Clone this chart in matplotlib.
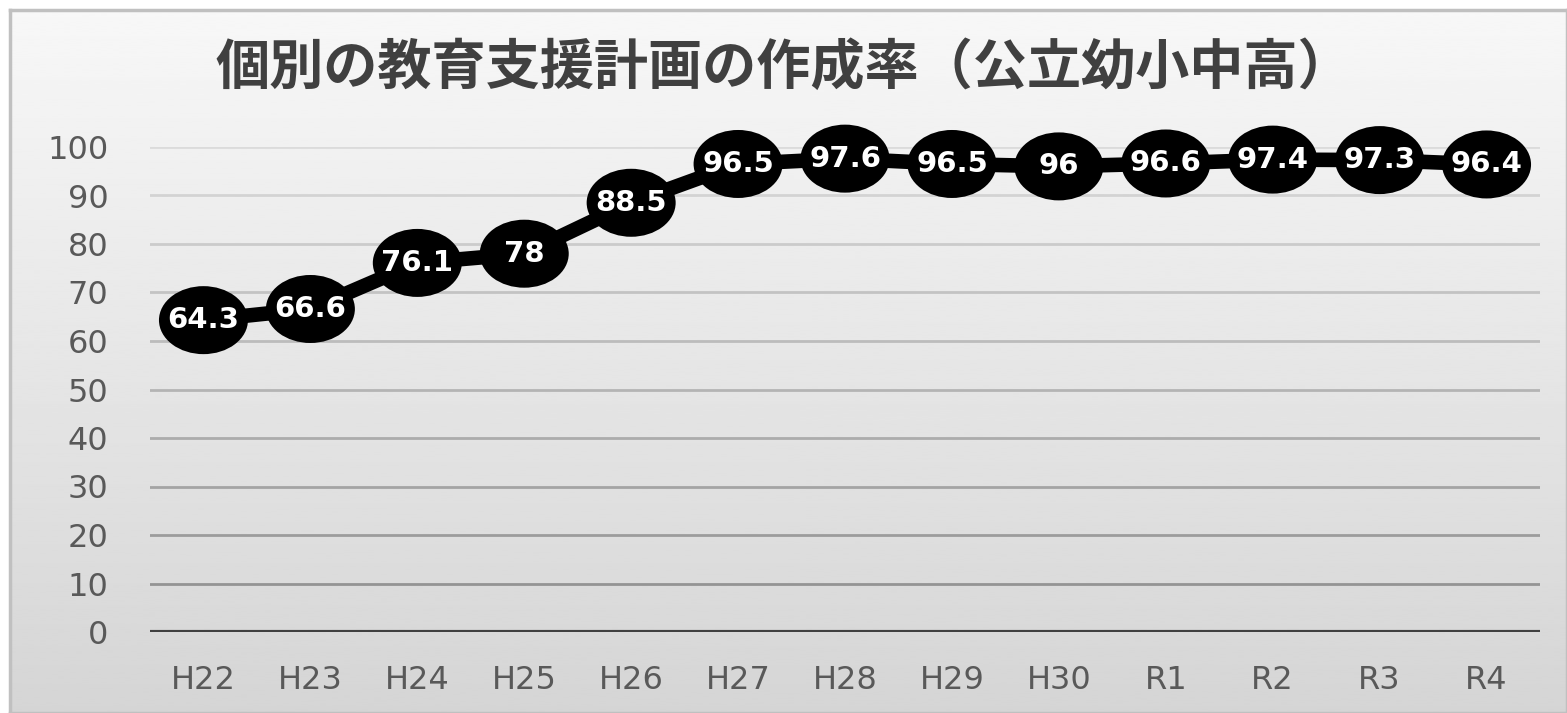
import numpy as np
import matplotlib
matplotlib.use("Agg")
import matplotlib.pyplot as plt
from matplotlib.patches import Ellipse

# data
years = ["H22", "H23", "H24", "H25", "H26", "H27", "H28",
         "H29", "H30", "R1", "R2", "R3", "R4"]
rates = [64.3, 66.6, 76.1, 78, 88.5, 96.5, 97.6,
         96.5, 96, 96.6, 97.4, 97.3, 96.4]
yticks = list(range(0, 101, 10))
title = "個別の教育支援計画の作成率（公立幼小中高）"

W, H = 1567, 713
fig = plt.figure(figsize=(W / 100, H / 100), dpi=100)
fig.patch.set_facecolor("white")

# gradient chart area with a grey frame
bg = fig.add_axes([10 / W, 0, 1 - 10 / W, 1 - 10 / H])
grad = np.linspace(0.97, 0.835, 256).reshape(-1, 1)
bg.imshow(grad, cmap="gray", vmin=0, vmax=1, aspect="auto",
          extent=[0, 1, 0, 1], origin="upper")
bg.set_xlim(0, 1)
bg.set_ylim(0, 1)
bg.set_xticks([])
bg.set_yticks([])
for s in bg.spines.values():
    s.set_color("#c0c0c0")
    s.set_linewidth(2.5)

# plot area
x0, x1 = 150, 1540
ytop, ybot = 147, 632
ax = fig.add_axes([x0 / W, (H - ybot) / H, (x1 - x0) / W, (ybot - ytop) / H])
ax.patch.set_alpha(0)
x = np.arange(len(years))
ax.set_xlim(-0.5, len(years) - 0.5)
ax.set_ylim(0, 100)
ax.set_yticks(yticks)
ax.set_xticks(x)
ax.set_xticklabels(years)
for s in ax.spines.values():
    s.set_visible(False)
ax.tick_params(length=0, labelsize=23, colors="#595959")
ax.tick_params(axis="x", pad=24)
ax.tick_params(axis="y", pad=30)
for lab in ax.get_xticklabels() + ax.get_yticklabels():
    lab.set_family("DejaVu Sans")

# gridlines get darker towards the bottom, like the original
for t in yticks[1:]:
    g = 0.58 + 0.28 * (t - 10) / 90
    ax.axhline(t, color=(g, g, g), linewidth=2, zorder=1)
ax.axhline(0, color="#404040", linewidth=3, zorder=2)

ax.plot(x, rates, color="black", linewidth=10.5, zorder=3, clip_on=False)
# one ellipse marker per point, about 89x68 px
ew = 89 / ((x1 - x0) / len(years))
eh = 68 / ((ybot - ytop) / 100)
for xi, v in zip(x, rates):
    ax.add_patch(Ellipse((xi, v), ew, eh, facecolor="black",
                         edgecolor="none", zorder=4, clip_on=False))
    ax.text(xi, v, f"{v:g}", ha="center", va="center", color="white",
            fontsize=21, fontweight="bold", family="DejaVu Sans",
            zorder=5)

fig.text(0.5, 1 - 68 / H, title, ha="center", va="center",
         fontsize=39, fontweight="bold", color="#404040",
         family=["Noto Sans CJK JP", "DejaVu Sans"])

fig.savefig("out.png", dpi=100)
